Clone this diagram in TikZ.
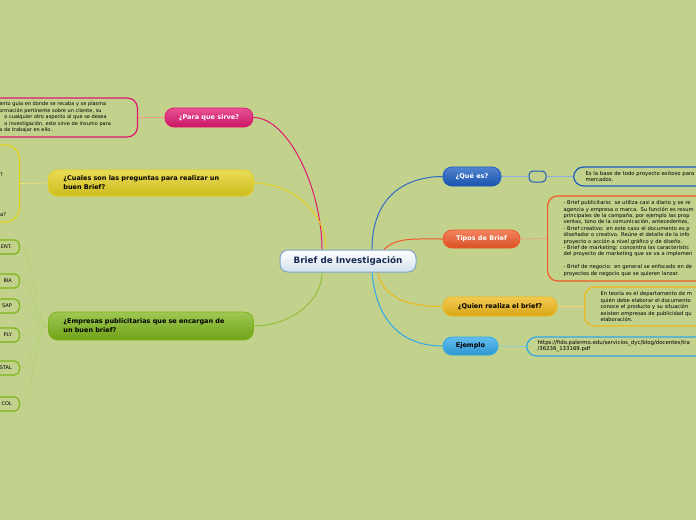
\documentclass[tikz,border=0pt]{standalone}
\usepackage{fontspec}
\setmainfont{DejaVu Sans}
\usetikzlibrary{backgrounds,calc}
\definecolor{bgGreen}{HTML}{C2D18C}
\definecolor{rootLine}{HTML}{7FA6C8}
\definecolor{rootText}{HTML}{1A2A50}
\definecolor{cPink}{HTML}{E01870}
\definecolor{cYellow}{HTML}{E4D020}
\definecolor{cGreen}{HTML}{7DB51A}
\definecolor{cBlue}{HTML}{1A5CC0}
\definecolor{cOrange}{HTML}{F05A28}
\definecolor{cGold}{HTML}{F0B818}
\definecolor{cSky}{HTML}{30A8E8}

\begin{document}
\begin{tikzpicture}[x=1pt,y=-1pt,
  font=\fontsize{5.2}{6.5}\selectfont,
  root/.style={draw=rootLine,line width=1pt,rounded corners=8pt,top color=white,bottom color=rootLine!35,
    text=rootText,font=\fontsize{8.8}{10}\selectfont\bfseries,minimum width=136pt,minimum height=22pt,inner sep=0pt},
  topic/.style={draw=#1,line width=0.8pt,rounded corners=9pt,top color=#1!75,bottom color=#1!90!black,
    font=\fontsize{6.5}{9}\selectfont\bfseries,minimum height=19pt,inner sep=0pt},
  wide/.style={topic=#1,anchor=west,align=left,text width=175pt,inner xsep=15pt},
  leaf/.style={draw=#1,line width=1.2pt,rounded corners=10pt,align=left,inner ysep=0pt},
  twig/.style={draw=#1,line width=1.2pt,rounded corners=5pt,anchor=east,align=right,text width=36pt,
    inner xsep=7.5pt,minimum height=14pt,inner ysep=0pt,font=\fontsize{5}{6}\selectfont},
  con/.style={draw=#1,line width=1pt},
  thin/.style={draw=#1,line width=0.7pt}]

  \useasboundingbox (0,0) rectangle (696,520);

  % centre
  \node[root] (root) at (348,261) {Brief de Investigación};

  % left branches
  \node[topic=cPink,text=white,minimum width=88pt] (para) at (209,117.5) {¿Para que sirve?};
  \node[leaf=cPink,anchor=east,text width=128pt,inner xsep=10pt,minimum height=39pt,font=\fontsize{5}{6.5}\selectfont] (paraleaf) at (138,117.5)
    {ento guía en donde se recaba y se plasma\\ormación pertinente sobre un cliente, su\\\hspace*{5pt}o cualquier otro aspecto al que se desea\\\hspace*{5pt}o investigación, este sirve de insumo para\\a de trabajar en ello.};

  \node[wide=cYellow,minimum height=26pt] (preg) at (48,183) {¿Cuales son las preguntas para realizar un\\buen Brief?};
  \node[draw=cYellow,line width=1.2pt,rounded corners=14pt,anchor=east,minimum width=60pt,minimum height=77pt] (pregleaf) at (20,183.5) {};
  \node[anchor=west,inner sep=0pt] (q1) at (0,175) {?};
  \node[anchor=west,inner sep=0pt] (q2) at (0,215) {a?};

  \node[wide=cGreen,minimum height=28pt] (emp) at (48,326) {¿Empresas publicitarias que se encargan de\\un buen brief?};
  \node[twig=cGreen] (e1) at (20,247) {ENT.};
  \node[twig=cGreen] (e2) at (20,281) {BIA};
  \node[twig=cGreen] (e3) at (20,306) {SAP};
  \node[twig=cGreen] (e4) at (20,335) {PLY};
  \node[twig=cGreen] (e5) at (20,368) {STAL};
  \node[twig=cGreen] (e6) at (20,404) {COL};

  % right branches
  \node[topic=cBlue,text=white,minimum width=58pt] (que) at (472,176.5) {¿Qué es?};
  \node[draw=cBlue,line width=1pt,rounded corners=4pt,minimum width=17pt,minimum height=11pt] (quebox) at (537.5,176.5) {};
  \node[leaf=cBlue,anchor=west,text width=150pt,inner xsep=12pt,minimum height=19pt,font=\fontsize{5.3}{6}\selectfont] (queleaf) at (573,176.5)
    {Es la base de todo proyecto exitoso para\\mercados.};

  \node[topic=cOrange,text=white,minimum width=77pt,minimum height=18pt] (tipos) at (481.5,239) {Tipos de Brief};
  \node[leaf=cOrange,anchor=west,text width=200pt,inner xsep=16pt,minimum height=85pt,font=\fontsize{5.2}{6.4}\selectfont] (tiposleaf) at (547,238.5)
    {- Brief publicitario: se utiliza casi a diario y se re\\
     agencia y empresa o marca. Su función es resum\\
     principales de la campaña, por ejemplo las prop\\
     ventas, tono de la comunicación, antecedentes,\\
     - Brief creativo: en este caso el documento es p\\
     diseñador o creativo. Reúne el detalle de la info\\
     proyecto o acción a nivel gráfico y de diseño.\\
     - Brief de marketing: concentra las característic\\
     del proyecto de marketing que se va a implemen\\[6.4pt]
     - Brief de negocio: en general se enfocado en de\\
     proyectos de negocio que se quieren lanzar.};

  \node[topic=cGold,minimum width=114pt] (quien) at (500,306.5) {¿Quien realiza el brief?};
  \node[leaf=cGold,anchor=west,text width=150pt,inner xsep=16pt,minimum height=39pt] (quienleaf) at (584,306.5)
    {En teoría es el departamento de m\\quién debe elaborar el documento\\conoce el producto y su situación\\existen empresas de publicidad qu\\elaboración.};

  \node[topic=cSky,minimum width=55pt,minimum height=18pt] (ejem) at (470.5,346) {Ejemplo};
  \node[leaf=cSky,anchor=west,text width=200pt,inner xsep=11pt,minimum height=19pt,font=\fontsize{5.4}{6}\selectfont] (ejemleaf) at (526,346.5)
    {https://fido.palermo.edu/servicios\_dyc/blog/docentes/tra\\/36236\_133169.pdf};

  \begin{scope}[on background layer]
    \fill[bgGreen] (0,0) rectangle (696,520);
    % main branches
    \draw[con=cPink] ([xshift=-26pt]root.north) .. controls +(0,-60) and +(35,0) .. (para.east);
    \draw[con=cYellow] ([xshift=-22pt]root.north) .. controls +(0,-40) and +(35,0) .. (preg.east);
    \draw[con=cGreen!85!white] ([xshift=-26pt]root.south) .. controls +(0,30) and +(35,0) .. (emp.east);
    \draw[con=cBlue!90!white] ([xshift=24pt]root.north) .. controls +(0,-55) and +(-35,0) .. (que.west);
    \draw[con=cOrange] ([xshift=36pt]root.north) .. controls +(12,-12) and +(-30,0) .. (tipos.west);
    \draw[con=cGold] ([xshift=30pt]root.south) .. controls +(5,25) and +(-35,0) .. (quien.west);
    \draw[con=cSky] ([xshift=24pt]root.south) .. controls +(5,55) and +(-35,0) .. (ejem.west);
    % leaf links
    \draw[thin=cPink!40!orange!60!white,line width=1pt] (para.west) -- (paraleaf.east);
    \draw[thin=cYellow!60!white] (preg.west) -- (pregleaf.east);
    \draw[thin=cBlue!50!white] (que.east) -- (quebox.west);
    \draw[thin=cBlue!50!white] (quebox.east) -- (queleaf.west);
    \draw[thin=cOrange!60!white] (tipos.east) -- (tiposleaf.west);
    \draw[thin=cGold!60!white] (quien.east) -- (quienleaf.west);
    \draw[thin=cSky!60!white] (ejem.east) -- (ejemleaf.west);
    \foreach \e in {e1,e2,e3,e4,e5,e6}{\draw[thin=cGreen!60!white] (emp.west) .. controls +(-14,0) and +(14,0) .. (\e.east);}
  \end{scope}
\end{tikzpicture}
\end{document}
